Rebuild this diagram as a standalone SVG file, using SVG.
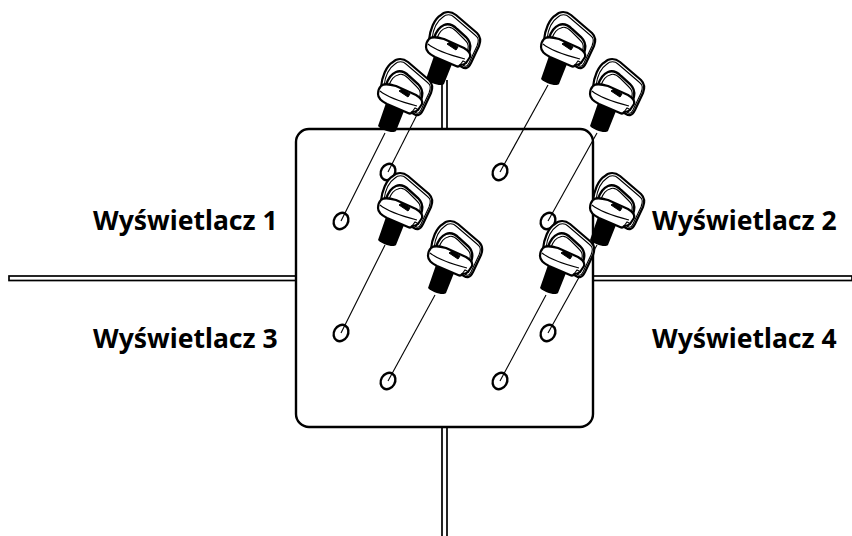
<svg xmlns="http://www.w3.org/2000/svg" width="852" height="536" viewBox="0 0 852 536">
<style>
.rail{fill:none;stroke:#000;stroke-width:1.7}
.hole{fill:#fff;stroke:#000;stroke-width:2.400}
.lead{fill:none;stroke:#000;stroke-width:1.100}
.lab{font-family:"Noto Sans","Open Sans",sans-serif;font-weight:700;font-size:26.500px;fill:#000}
.o{fill:#fff;stroke:#000;stroke-width:2.200;stroke-linejoin:round}
.i{fill:none;stroke:#000;stroke-width:1.100}
.a{fill:none;stroke:#000;stroke-width:2.400}
</style>
<defs>
<g id="screw">
<path d="M-2-26L16-18L8 2C5 5-6 1-10-3Z" fill="#000"/>
<path class="o" d="M-7-42C-6-52-2-63 5-67C9-71 15-71 20-67L41-49C45-45 45-41 43-36L35-19C32-13 29-13 26-15L-7-34Z"/>
<path class="i" d="M-4-43C-3-52 1-61 7-65C10-68 15-68 18-65L39-47C43-44 43-41 41-36L33-19C31-15 29-15 27-17"/>
<path class="a" d="M-2-44C0-50 3-55 8-57C13-59 18-56 21-53L30-45C33-42 35-38 34-33L32-24"/>
<path class="i" d="M1-44C3-49 6-53 10-54C14-56 17-54 20-51L28-43C31-40 33-38 32-33L30-25"/>
<path class="o" d="M-7-43C-4-46 1-45 8-43L28-34C33-31 35-28 34-25L30-19C28-17 26-17 24-17C23-15 22-15 20-16L-1-25C-7-28-10-31-10-35C-10-38-9-41-7-43Z"/>
<path d="M11-38L14-40 22-35 20-32Z" fill="#000" stroke="#000" stroke-width="1"/>
<path class="i" d="M24-17L27-21 31-19M-8-38C-2-33 10-28 29-23"/>
</g>
</defs>
<g id="rails">
<rect x="9" y="276" width="287" height="4.500" fill="#fff" class="rail"/>
<rect x="593" y="276" width="259" height="4.500" fill="#fff" class="rail"/>
<path class="rail" d="M442 80V129M447 80V129M442 427V536M447 427V536"/>
</g>
<g id="panel">
<rect x="296" y="129" width="297" height="298" rx="13" ry="13" fill="#fff" stroke="#000" stroke-width="2.400"/>
</g>
<g id="holes">
<ellipse class="hole" cx="341" cy="221" rx="7" ry="8.500" transform="rotate(30 341 221)"/>
<ellipse class="hole" cx="388" cy="172" rx="7" ry="8.500" transform="rotate(30 388 172)"/>
<ellipse class="hole" cx="500" cy="172" rx="7" ry="8.500" transform="rotate(30 500 172)"/>
<ellipse class="hole" cx="548" cy="221" rx="7" ry="8.500" transform="rotate(30 548 221)"/>
<ellipse class="hole" cx="341" cy="333" rx="7" ry="8.500" transform="rotate(30 341 333)"/>
<ellipse class="hole" cx="548" cy="333" rx="7" ry="8.500" transform="rotate(30 548 333)"/>
<ellipse class="hole" cx="388" cy="381" rx="7" ry="8.500" transform="rotate(30 388 381)"/>
<ellipse class="hole" cx="500" cy="381" rx="7" ry="8.500" transform="rotate(30 500 381)"/>
</g>
<g id="connectors">
<path class="lead" d="M385 133L341 221"/>
<path class="lead" d="M432 85L388 172"/>
<path class="lead" d="M548 85L500 172"/>
<path class="lead" d="M597 133L548 221"/>
<path class="lead" d="M385 245L341 333"/>
<path class="lead" d="M435 295L388 381"/>
<path class="lead" d="M597 245L548 333"/>
<path class="lead" d="M546 295L500 381"/>
</g>
<g id="screw-2"><use href="#screw" x="436" y="82"/></g>
<g id="screw-1"><use href="#screw" x="388" y="129"/></g>
<g id="screw-3"><use href="#screw" x="551" y="82"/></g>
<g id="screw-4"><use href="#screw" x="600" y="129"/></g>
<g id="screw-7"><use href="#screw" x="600" y="243"/></g>
<g id="screw-5"><use href="#screw" x="388" y="243"/></g>
<g id="screw-6"><use href="#screw" x="438" y="291"/></g>
<g id="screw-8"><use href="#screw" x="550" y="291"/></g>
<g id="labels">
<text class="lab" x="93" y="230">Wyświetlacz 1</text>
<text class="lab" x="652" y="230">Wyświetlacz 2</text>
<text class="lab" x="93" y="348">Wyświetlacz 3</text>
<text class="lab" x="652" y="348">Wyświetlacz 4</text>
</g>
</svg>
